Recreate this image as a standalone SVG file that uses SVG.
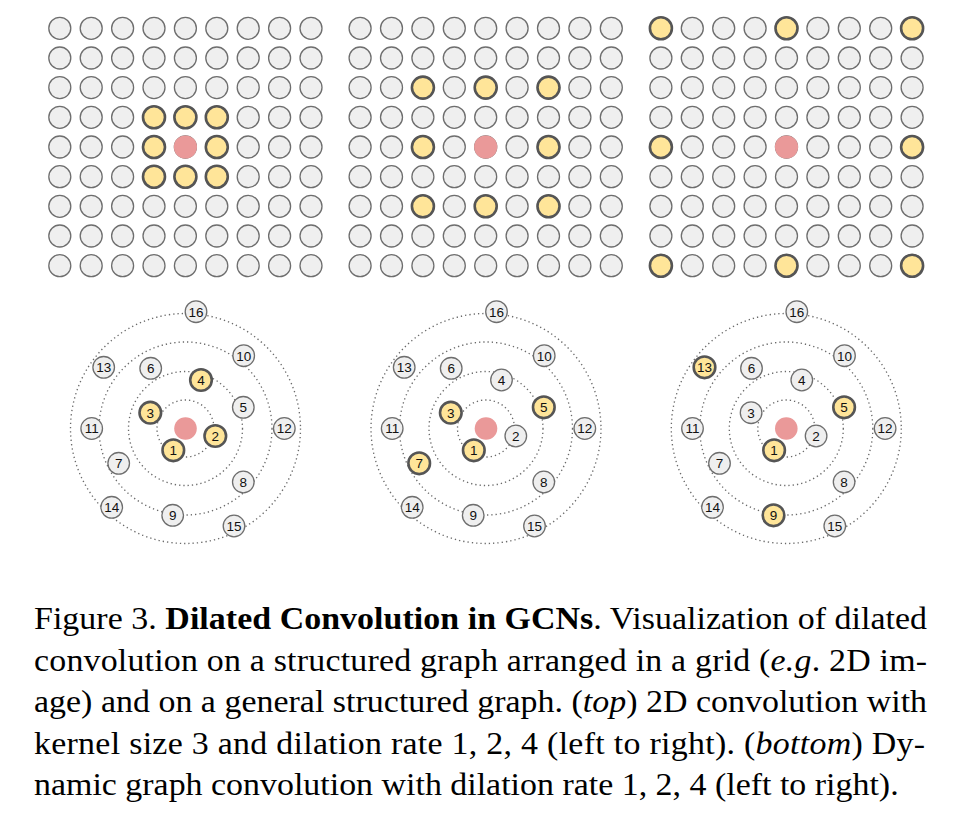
<svg xmlns="http://www.w3.org/2000/svg" xmlns:xlink="http://www.w3.org/1999/xlink" width="959" height="815" viewBox="0 0 959 815">
<style>
.c{fill:#efefef;stroke:#6e6e6e;stroke-width:1.3}
.y{fill:#ffe599;stroke:#555;stroke-width:2.6}
.r{fill:#ea9999;stroke:none}
.ring{fill:none;stroke:#6a6a6a;stroke-width:1.35;stroke-dasharray:1.3 3}
.n circle{fill:#efefef;stroke:#6e6e6e;stroke-width:1.3}
.n.h circle{fill:#ffe599;stroke:#555;stroke-width:2.6}
.n text{font-family:'Liberation Sans',Arial,sans-serif;font-size:13.5px;fill:#111;text-anchor:middle}
.cap{font-family:'Liberation Serif','Times New Roman',serif;font-size:32px;fill:#000}
</style>
<defs>
<g id="row">
<circle class="c" cx="0" cy="0" r="11"/><circle class="c" cx="31.4" cy="0" r="11"/><circle class="c" cx="62.8" cy="0" r="11"/><circle class="c" cx="94.2" cy="0" r="11"/><circle class="c" cx="125.6" cy="0" r="11"/><circle class="c" cx="157" cy="0" r="11"/><circle class="c" cx="188.4" cy="0" r="11"/><circle class="c" cx="219.8" cy="0" r="11"/><circle class="c" cx="251.2" cy="0" r="11"/>
</g>
<g id="grid">
<use xlink:href="#row" y="28.3"/><use xlink:href="#row" y="58"/><use xlink:href="#row" y="87.6"/><use xlink:href="#row" y="117.3"/><use xlink:href="#row" y="147"/><use xlink:href="#row" y="176.7"/><use xlink:href="#row" y="206.3"/><use xlink:href="#row" y="236"/><use xlink:href="#row" y="265.7"/>
</g>
</defs>

<g id="grid-dilation-1" transform="translate(59.8,0)">
<use xlink:href="#grid"/>
<circle class="y" cx="94.2" cy="117.3" r="11"/><circle class="y" cx="125.6" cy="117.3" r="11"/><circle class="y" cx="157" cy="117.3" r="11"/>
<circle class="y" cx="94.2" cy="147" r="11"/><circle class="r" cx="125.6" cy="147" r="11.6"/><circle class="y" cx="157" cy="147" r="11"/>
<circle class="y" cx="94.2" cy="176.7" r="11"/><circle class="y" cx="125.6" cy="176.7" r="11"/><circle class="y" cx="157" cy="176.7" r="11"/>
</g>
<g id="grid-dilation-2" transform="translate(360.1,0)">
<use xlink:href="#grid"/>
<circle class="y" cx="62.8" cy="87.6" r="11"/><circle class="y" cx="125.6" cy="87.6" r="11"/><circle class="y" cx="188.4" cy="87.6" r="11"/>
<circle class="y" cx="62.8" cy="147" r="11"/><circle class="r" cx="125.6" cy="147" r="11.6"/><circle class="y" cx="188.4" cy="147" r="11"/>
<circle class="y" cx="62.8" cy="206.3" r="11"/><circle class="y" cx="125.6" cy="206.3" r="11"/><circle class="y" cx="188.4" cy="206.3" r="11"/>
</g>
<g id="grid-dilation-4" transform="translate(660.9,0)">
<use xlink:href="#grid"/>
<circle class="y" cx="0" cy="28.3" r="11"/><circle class="y" cx="125.6" cy="28.3" r="11"/><circle class="y" cx="251.2" cy="28.3" r="11"/>
<circle class="y" cx="0" cy="147" r="11"/><circle class="r" cx="125.6" cy="147" r="11.6"/><circle class="y" cx="251.2" cy="147" r="11"/>
<circle class="y" cx="0" cy="265.7" r="11"/><circle class="y" cx="125.6" cy="265.7" r="11"/><circle class="y" cx="251.2" cy="265.7" r="11"/>
</g>

<g id="connectors">
<g transform="translate(185.5,428.5)"><circle class="ring" r="28.5"/><circle class="ring" r="57"/><circle class="ring" r="86.5"/><circle class="ring" r="115"/></g>
<g transform="translate(486,428.5)"><circle class="ring" r="28.5"/><circle class="ring" r="57"/><circle class="ring" r="86.5"/><circle class="ring" r="115"/></g>
<g transform="translate(786.3,428.5)"><circle class="ring" r="28.5"/><circle class="ring" r="57"/><circle class="ring" r="86.5"/><circle class="ring" r="115"/></g>
</g>

<g id="graph-1" transform="translate(185.5,428.5)">
<g id="g1-center"><circle class="r" cx="0" cy="0" r="11.3"/></g>
<g id="g1-n1" class="n h"><circle cx="-12.2" cy="21.8" r="10.8"/><text x="-12.2" y="26.6">1</text></g>
<g id="g1-n2" class="n h"><circle cx="29.8" cy="7.5" r="10.8"/><text x="29.8" y="12.3">2</text></g>
<g id="g1-n3" class="n h"><circle cx="-35.2" cy="-15.8" r="10.8"/><text x="-35.2" y="-11">3</text></g>
<g id="g1-n4" class="n h"><circle cx="15.5" cy="-48.5" r="10.8"/><text x="15.5" y="-43.7">4</text></g>
<g id="g1-n5" class="n"><circle cx="57.8" cy="-21.2" r="10.8"/><text x="57.8" y="-16.4">5</text></g>
<g id="g1-n6" class="n"><circle cx="-34.8" cy="-60.2" r="10.8"/><text x="-34.8" y="-55.4">6</text></g>
<g id="g1-n7" class="n"><circle cx="-66.8" cy="34.8" r="10.8"/><text x="-66.8" y="39.6">7</text></g>
<g id="g1-n8" class="n"><circle cx="57.8" cy="53.5" r="10.8"/><text x="57.8" y="58.3">8</text></g>
<g id="g1-n9" class="n"><circle cx="-12.8" cy="86.8" r="10.8"/><text x="-12.8" y="91.6">9</text></g>
<g id="g1-n10" class="n"><circle cx="58.2" cy="-72.8" r="10.8"/><text x="58.2" y="-68">10</text></g>
<g id="g1-n11" class="n"><circle cx="-93.8" cy="0" r="10.8"/><text x="-93.8" y="4.8">11</text></g>
<g id="g1-n12" class="n"><circle cx="98.8" cy="0" r="10.8"/><text x="98.8" y="4.8">12</text></g>
<g id="g1-n13" class="n"><circle cx="-81.8" cy="-61.2" r="10.8"/><text x="-81.8" y="-56.4">13</text></g>
<g id="g1-n14" class="n"><circle cx="-73.8" cy="78.8" r="10.8"/><text x="-73.8" y="83.6">14</text></g>
<g id="g1-n15" class="n"><circle cx="48.5" cy="97.5" r="10.8"/><text x="48.5" y="102.3">15</text></g>
<g id="g1-n16" class="n"><circle cx="10.5" cy="-116.8" r="10.8"/><text x="10.5" y="-112">16</text></g>
</g>

<g id="graph-2" transform="translate(486,428.5)">
<g id="g2-center"><circle class="r" cx="0" cy="0" r="11.3"/></g>
<g id="g2-n1" class="n h"><circle cx="-12.2" cy="21.8" r="10.8"/><text x="-12.2" y="26.6">1</text></g>
<g id="g2-n2" class="n"><circle cx="29.8" cy="7.5" r="10.8"/><text x="29.8" y="12.3">2</text></g>
<g id="g2-n3" class="n h"><circle cx="-35.2" cy="-15.8" r="10.8"/><text x="-35.2" y="-11">3</text></g>
<g id="g2-n4" class="n"><circle cx="15.5" cy="-48.5" r="10.8"/><text x="15.5" y="-43.7">4</text></g>
<g id="g2-n5" class="n h"><circle cx="57.8" cy="-21.2" r="10.8"/><text x="57.8" y="-16.4">5</text></g>
<g id="g2-n6" class="n"><circle cx="-34.8" cy="-60.2" r="10.8"/><text x="-34.8" y="-55.4">6</text></g>
<g id="g2-n7" class="n h"><circle cx="-66.8" cy="34.8" r="10.8"/><text x="-66.8" y="39.6">7</text></g>
<g id="g2-n8" class="n"><circle cx="57.8" cy="53.5" r="10.8"/><text x="57.8" y="58.3">8</text></g>
<g id="g2-n9" class="n"><circle cx="-12.8" cy="86.8" r="10.8"/><text x="-12.8" y="91.6">9</text></g>
<g id="g2-n10" class="n"><circle cx="58.2" cy="-72.8" r="10.8"/><text x="58.2" y="-68">10</text></g>
<g id="g2-n11" class="n"><circle cx="-93.8" cy="0" r="10.8"/><text x="-93.8" y="4.8">11</text></g>
<g id="g2-n12" class="n"><circle cx="98.8" cy="0" r="10.8"/><text x="98.8" y="4.8">12</text></g>
<g id="g2-n13" class="n"><circle cx="-81.8" cy="-61.2" r="10.8"/><text x="-81.8" y="-56.4">13</text></g>
<g id="g2-n14" class="n"><circle cx="-73.8" cy="78.8" r="10.8"/><text x="-73.8" y="83.6">14</text></g>
<g id="g2-n15" class="n"><circle cx="48.5" cy="97.5" r="10.8"/><text x="48.5" y="102.3">15</text></g>
<g id="g2-n16" class="n"><circle cx="10.5" cy="-116.8" r="10.8"/><text x="10.5" y="-112">16</text></g>
</g>

<g id="graph-3" transform="translate(786.3,428.5)">
<g id="g3-center"><circle class="r" cx="0" cy="0" r="11.3"/></g>
<g id="g3-n1" class="n h"><circle cx="-12.2" cy="21.8" r="10.8"/><text x="-12.2" y="26.6">1</text></g>
<g id="g3-n2" class="n"><circle cx="29.8" cy="7.5" r="10.8"/><text x="29.8" y="12.3">2</text></g>
<g id="g3-n3" class="n"><circle cx="-35.2" cy="-15.8" r="10.8"/><text x="-35.2" y="-11">3</text></g>
<g id="g3-n4" class="n"><circle cx="15.5" cy="-48.5" r="10.8"/><text x="15.5" y="-43.7">4</text></g>
<g id="g3-n5" class="n h"><circle cx="57.8" cy="-21.2" r="10.8"/><text x="57.8" y="-16.4">5</text></g>
<g id="g3-n6" class="n"><circle cx="-34.8" cy="-60.2" r="10.8"/><text x="-34.8" y="-55.4">6</text></g>
<g id="g3-n7" class="n"><circle cx="-66.8" cy="34.8" r="10.8"/><text x="-66.8" y="39.6">7</text></g>
<g id="g3-n8" class="n"><circle cx="57.8" cy="53.5" r="10.8"/><text x="57.8" y="58.3">8</text></g>
<g id="g3-n9" class="n h"><circle cx="-12.8" cy="86.8" r="10.8"/><text x="-12.8" y="91.6">9</text></g>
<g id="g3-n10" class="n"><circle cx="58.2" cy="-72.8" r="10.8"/><text x="58.2" y="-68">10</text></g>
<g id="g3-n11" class="n"><circle cx="-93.8" cy="0" r="10.8"/><text x="-93.8" y="4.8">11</text></g>
<g id="g3-n12" class="n"><circle cx="98.8" cy="0" r="10.8"/><text x="98.8" y="4.8">12</text></g>
<g id="g3-n13" class="n h"><circle cx="-81.8" cy="-61.2" r="10.8"/><text x="-81.8" y="-56.4">13</text></g>
<g id="g3-n14" class="n"><circle cx="-73.8" cy="78.8" r="10.8"/><text x="-73.8" y="83.6">14</text></g>
<g id="g3-n15" class="n"><circle cx="48.5" cy="97.5" r="10.8"/><text x="48.5" y="102.3">15</text></g>
<g id="g3-n16" class="n"><circle cx="10.5" cy="-116.8" r="10.8"/><text x="10.5" y="-112">16</text></g>
</g>

<g id="caption" class="cap" transform="translate(34,0) scale(1.06,1)">
<text x="0" y="629.5" textLength="842.5" lengthAdjust="spacing">Figure 3. <tspan font-weight="bold">Dilated Convolution in GCNs</tspan>. Visualization of dilated</text>
<text x="0" y="671" textLength="842.5" lengthAdjust="spacing">convolution on a structured graph arranged in a grid (<tspan font-style="italic">e.g</tspan>. 2D im-</text>
<text x="0" y="712.5" textLength="842.5" lengthAdjust="spacing">age) and on a general structured graph. (<tspan font-style="italic">top</tspan>) 2D convolution with</text>
<text x="0" y="754" textLength="840.6" lengthAdjust="spacing">kernel size 3 and dilation rate 1, 2, 4 (left to right).  (<tspan font-style="italic">bottom</tspan>) Dy-</text>
<text x="0" y="795.5">namic graph convolution with dilation rate 1, 2, 4 (left to right).</text>
</g>
</svg>
